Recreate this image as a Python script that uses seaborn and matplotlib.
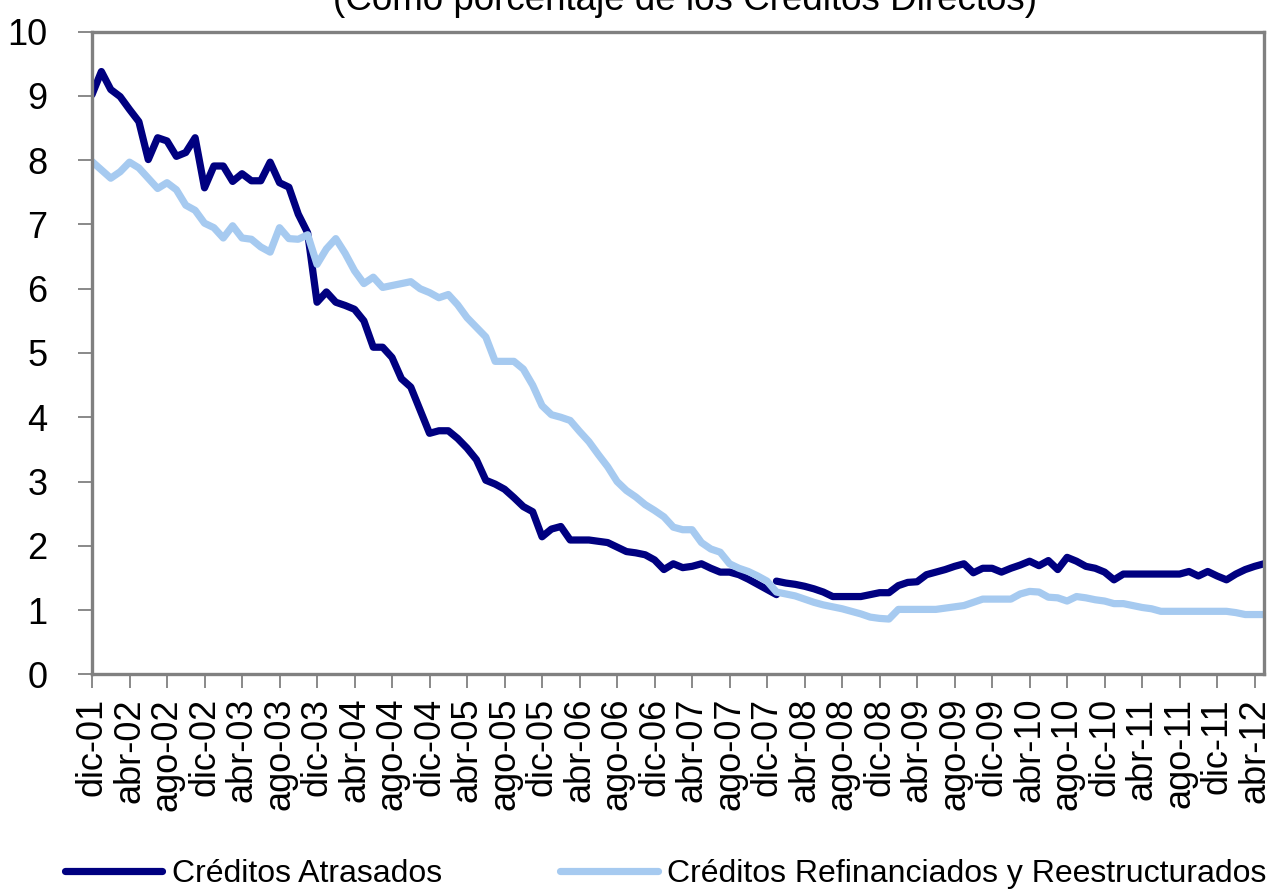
import numpy as np
import matplotlib
matplotlib.use("Agg")
import matplotlib.pyplot as plt
import seaborn as sns
from matplotlib import font_manager
from matplotlib.lines import Line2D

# ---------------- data ----------------
etiquetas = ["dic-01", "abr-02", "ago-02", "dic-02", "abr-03", "ago-03", "dic-03",
             "abr-04", "ago-04", "dic-04", "abr-05", "ago-05", "dic-05", "abr-06",
             "ago-06", "dic-06", "abr-07", "ago-07", "dic-07", "abr-08", "ago-08",
             "dic-08", "abr-09", "ago-09", "dic-09", "abr-10", "ago-10", "dic-10",
             "abr-11", "ago-11", "dic-11", "abr-12"]

# Créditos atrasados, dic-01 .. ene-08 (old series)
atrasados_hasta_ene08 = [
    9.02, 9.38, 9.10, 8.99, 8.79, 8.60, 8.01, 8.35, 8.30, 8.06,
    8.12, 8.35, 7.57, 7.91, 7.91, 7.67, 7.79, 7.68, 7.68, 7.97,
    7.65, 7.58, 7.16, 6.87, 5.79, 5.95, 5.79, 5.74, 5.68, 5.50,
    5.09, 5.09, 4.93, 4.60, 4.47, 4.11, 3.75, 3.79, 3.79, 3.67,
    3.52, 3.34, 3.02, 2.96, 2.88, 2.75, 2.61, 2.53, 2.14, 2.26,
    2.30, 2.09, 2.09, 2.09, 2.07, 2.05, 1.98, 1.91, 1.89, 1.86,
    1.78, 1.63, 1.72, 1.66, 1.68, 1.72, 1.65, 1.59, 1.59, 1.55,
    1.48, 1.40, 1.32, 1.24]

# Créditos atrasados, ene-08 .. may-12 (new series)
atrasados_desde_ene08 = [
    1.45, 1.42, 1.40, 1.37, 1.33, 1.28, 1.21, 1.21, 1.21, 1.21,
    1.24, 1.27, 1.27, 1.38, 1.43, 1.44, 1.55, 1.59, 1.63, 1.68,
    1.72, 1.58, 1.65, 1.65, 1.59, 1.65, 1.70, 1.76, 1.69, 1.77,
    1.63, 1.82, 1.76, 1.68, 1.65, 1.59, 1.47, 1.56, 1.56, 1.56,
    1.56, 1.56, 1.56, 1.56, 1.60, 1.53, 1.60, 1.53, 1.47, 1.56,
    1.63, 1.68, 1.72]

# Créditos refinanciados y reestructurados, dic-01 .. may-12
refinanciados = [
    7.98, 7.85, 7.72, 7.82, 7.97, 7.88, 7.72, 7.56, 7.65, 7.54,
    7.30, 7.22, 7.02, 6.95, 6.79, 6.98, 6.79, 6.77, 6.65, 6.57,
    6.95, 6.78, 6.77, 6.84, 6.38, 6.62, 6.78, 6.55, 6.28, 6.08,
    6.18, 6.02, 6.05, 6.08, 6.11, 6.00, 5.94, 5.86, 5.91, 5.75,
    5.55, 5.40, 5.25, 4.87, 4.87, 4.87, 4.75, 4.50, 4.18, 4.04,
    4.00, 3.95, 3.78, 3.62, 3.42, 3.23, 3.00, 2.86, 2.76, 2.64,
    2.55, 2.45, 2.29, 2.25, 2.25, 2.05, 1.95, 1.90, 1.72, 1.65,
    1.60, 1.53, 1.45, 1.28, 1.25, 1.22, 1.17, 1.12, 1.08, 1.05,
    1.02, 0.98, 0.94, 0.89, 0.87, 0.86, 1.01, 1.01, 1.01, 1.01,
    1.01, 1.03, 1.05, 1.07, 1.12, 1.17, 1.17, 1.17, 1.17, 1.25,
    1.29, 1.28, 1.20, 1.19, 1.14, 1.21, 1.19, 1.16, 1.14, 1.10,
    1.10, 1.07, 1.04, 1.02, 0.98, 0.98, 0.98, 0.98, 0.98, 0.98,
    0.98, 0.98, 0.96, 0.93, 0.93, 0.93]

titulo = "(Como porcentaje de los Créditos Directos)"
serie1 = "Créditos Atrasados"
serie2 = "Créditos Refinanciados y Reestructurados"

# ---------------- style ----------------
sns.set_theme(style="white")
names = {f.name for f in font_manager.fontManager.ttflist}
main_font = "Liberation Sans Narrow" if "Liberation Sans Narrow" in names else "Liberation Sans"
plt.rcParams["font.family"] = [main_font, "DejaVu Sans"]
plt.rcParams["text.color"] = "black"

navy = "#000080"
light = "#A6CAF0"
grey = "#808080"
fs = 26

W, H = 1280, 893
fig = plt.figure(figsize=(W / 100, H / 100), dpi=100)
fig.patch.set_facecolor("white")
left, right, top, bottom = 92, 1264, 31.7, 674.3
ax = fig.add_axes([left / W, 1 - bottom / H, (right - left) / W, (bottom - top) / H])
ax.set_facecolor("white")

n_old = len(atrasados_hasta_ene08)
x_old = np.arange(n_old)
x_new = np.arange(n_old - 1, n_old - 1 + len(atrasados_desde_ene08))
x_all = np.arange(len(refinanciados))

lw = 5.2
sns.lineplot(x=x_old, y=atrasados_hasta_ene08, ax=ax, color=navy, linewidth=lw,
             solid_joinstyle="round", legend=False)
sns.lineplot(x=x_new, y=atrasados_desde_ene08, ax=ax, color=navy, linewidth=lw,
             solid_joinstyle="round", legend=False)
sns.lineplot(x=x_all, y=refinanciados, ax=ax, color=light, linewidth=lw,
             solid_joinstyle="round", legend=False)

ax.set_xlim(0, len(refinanciados) - 1)
ax.set_ylim(0, 10)
ax.set_yticks(range(0, 11))
ax.set_yticklabels([str(v) for v in range(0, 11)])
ax.set_xticks(np.arange(0, 4 * len(etiquetas), 4))
ax.set_xticklabels(etiquetas, rotation=90, ha="center", va="top")
ax.set_xlabel("")
ax.set_ylabel("")

for s in ax.spines.values():
    s.set_visible(True)
    s.set_color(grey)
    s.set_linewidth(2.4)

ax.tick_params(axis="both", which="major", direction="out", color=grey, width=1.3,
               length=10, labelsize=fs, labelcolor="black", bottom=True, left=True)
ax.tick_params(axis="y", pad=22)
ax.tick_params(axis="x", pad=7)
ax.grid(False)

fig.text(0.535, 1 - 10 / H, titulo, ha="center", va="baseline", fontsize=26.5, color="black")

handles = [Line2D([0], [0], color=navy, lw=lw), Line2D([0], [0], color=light, lw=lw)]
fig.legend(handles, [serie1, serie2], loc="center", bbox_to_anchor=(0.52, 1 - 874 / H),
           ncol=2, frameon=False, fontsize=23, handlelength=3.05, handletextpad=0.3,
           columnspacing=3.7, labelcolor="black")

fig.savefig("out.png", dpi=100, facecolor="white")
